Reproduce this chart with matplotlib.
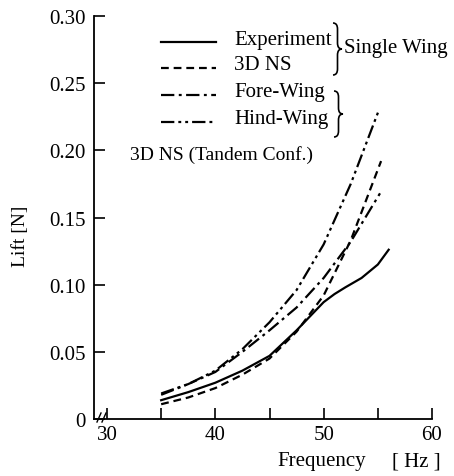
import matplotlib
matplotlib.use('Agg')
import matplotlib.pyplot as plt
from matplotlib.lines import Line2D
from matplotlib.path import Path
from matplotlib.patches import PathPatch

plt.rcParams['font.family'] = ['Liberation Serif', 'DejaVu Serif']

W, H = 454, 477

# values
freq_exp = [35, 37.5, 40, 42.5, 45, 47.5, 50, 51, 52, 53.5, 55, 56]
lift_exp = [0.014, 0.020, 0.027, 0.036, 0.047, 0.066, 0.087, 0.093, 0.098, 0.105, 0.115, 0.126]

freq_ns = [35, 37.5, 40, 42.5, 45, 47.5, 50, 52.5, 55.3]
lift_ns = [0.011, 0.016, 0.023, 0.033, 0.045, 0.065, 0.092, 0.133, 0.192]

freq_fore = [35, 37.5, 40, 42.5, 45, 47.5, 50, 52.5, 55.2]
lift_fore = [0.018, 0.026, 0.035, 0.050, 0.066, 0.083, 0.105, 0.132, 0.168]

freq_hind = [35, 37.5, 40, 42.5, 45, 47.5, 50, 52.5, 55.1]
lift_hind = [0.019, 0.026, 0.036, 0.052, 0.072, 0.096, 0.130, 0.175, 0.230]

x_ticks = [30, 35, 40, 45, 50, 55, 60]
x_labels = ['30', '', '40', '', '50', '', '60']
y_ticks = [0, 0.05, 0.10, 0.15, 0.20, 0.25, 0.30]
y_labels = ['0', '0.05', '0.10', '0.15', '0.20', '0.25', '0.30']

styles = {
    'exp': '-',
    'ns': (0, (3.5, 2.2)),
    'fore': (0, (6, 2, 1.3, 2)),
    'hind': (0, (6, 1.8, 1.3, 1.8, 1.3, 1.8)),
}
lw = 1.6
fs = 15


def fx(px):
    return px / W


def fy(py):
    return 1 - py / H


fig = plt.figure(figsize=(W / 100, H / 100), dpi=100)
ax = fig.add_axes([fx(94), fy(420), (432 - 94) / W, (420 - 17) / H])

ax.plot(freq_exp, lift_exp, color='black', lw=lw, linestyle=styles['exp'])
ax.plot(freq_ns, lift_ns, color='black', lw=lw, linestyle=styles['ns'])
ax.plot(freq_fore, lift_fore, color='black', lw=lw, linestyle=styles['fore'])
ax.plot(freq_hind, lift_hind, color='black', lw=lw, linestyle=styles['hind'])

ax.set_xlim(28.8, 60)
ax.set_ylim(0, 0.30)
ax.set_xticks(x_ticks)
ax.set_xticklabels(x_labels)
ax.set_yticks(y_ticks)
ax.set_yticklabels(y_labels)
ax.tick_params(direction='in', length=8, width=1.2, labelsize=fs, pad=4)
ax.tick_params(axis='y', pad=6)
for side in ['top', 'right']:
    ax.spines[side].set_visible(False)
for side in ['left', 'bottom']:
    ax.spines[side].set_linewidth(1.3)

# axis break marks
for x0 in [97, 102]:
    fig.add_artist(Line2D([fx(x0), fx(x0 + 4)], [fy(423), fy(414)],
                          color='black', lw=1.0, transform=fig.transFigure))

fig.text(fx(20), fy(236), 'Lift [N]', rotation=90, ha='center', va='center', fontsize=14)
fig.text(fx(322), fy(462), 'Frequency', ha='center', va='center', fontsize=fs)
fig.text(fx(416), fy(462), '[ Hz ]', ha='center', va='center', fontsize=fs)

# legend drawn by hand
legend = [('exp', 'Experiment', 43), ('ns', '3D NS', 69),
          ('fore', 'Fore-Wing', 96), ('hind', 'Hind-Wing', 123)]
for key, label, py in legend:
    fig.add_artist(Line2D([fx(161), fx(216)], [fy(py), fy(py)], color='black',
                          lw=lw, linestyle=styles[key], transform=fig.transFigure))
    fig.text(fx(234), fy(py - 3), label, ha='left', va='center', fontsize=fs)


def brace(x, top, bot, w, r=6):
    mid = (top + bot) / 2
    h = w / 2
    pts = [(x, top), (x + h, top), (x + h, top + r), (x + h, mid - r),
           (x + h, mid), (x + w, mid), (x + h, mid), (x + h, mid + r),
           (x + h, bot - r), (x + h, bot), (x, bot)]
    codes = [Path.MOVETO, Path.CURVE3, Path.CURVE3, Path.LINETO,
             Path.CURVE3, Path.CURVE3, Path.CURVE3, Path.CURVE3,
             Path.LINETO, Path.CURVE3, Path.CURVE3]
    verts = [(fx(a), fy(b)) for a, b in pts]
    fig.add_artist(PathPatch(Path(verts, codes), fill=False, lw=1.2,
                             edgecolor='black', transform=fig.transFigure))


brace(333, 24, 76, 9)
brace(334, 92, 138, 9)
fig.text(fx(344), fy(49), 'Single Wing', ha='left', va='center', fontsize=fs)
fig.text(fx(130), fy(155), '3D NS (Tandem Conf.)', ha='left', va='center', fontsize=14)

fig.savefig('out.png', dpi=100)
